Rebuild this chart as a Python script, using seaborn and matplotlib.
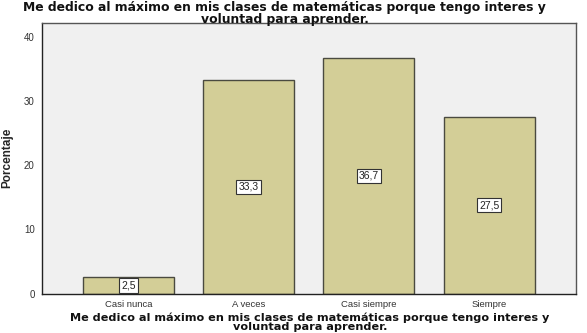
import matplotlib
matplotlib.use("Agg")
import matplotlib.pyplot as plt
import seaborn as sns
import pandas as pd

categories = ["Casi nunca", "A veces", "Casi siempre", "Siempre"]
values = [2.5, 33.3, 36.7, 27.5]
labels = ["2,5", "33,3", "36,7", "27,5"]
title = "Me dedico al máximo en mis clases de matemáticas porque tengo interes y\nvoluntad para aprender."
xlabel = "Me dedico al máximo en mis clases de matemáticas porque tengo interes y\nvoluntad para aprender."
ylabel = "Porcentaje"
yticks = [0, 10, 20, 30, 40]

sns.set_style("white")
plt.rcParams['font.family'] = ['Liberation Sans', 'DejaVu Sans']

df = pd.DataFrame({"cat": categories, "val": values})

fig = plt.figure(figsize=(5.87, 3.33), dpi=100)
ax = fig.add_axes([0.071, 1 - 293.5/333, 0.910, (293.5 - 22.7)/333])
ax.set_facecolor("#f0f0f0")
sns.barplot(data=df, x="cat", y="val", ax=ax, color="#d3ce97", saturation=1,
            width=0.756, edgecolor="#4a4a40", linewidth=1.0)
ax.set_xlim(-0.72, 3.72)
ax.set_ylim(0, 42.2)
ax.set_yticks(yticks)
ax.set_yticklabels([str(t) for t in yticks], fontsize=7, color="#333333")
ax.set_xticklabels(categories, fontsize=6.8, color="#333333")
ax.tick_params(axis="both", length=4, width=1, color="#333333", direction="out")
ax.tick_params(axis="y", pad=1)
ax.tick_params(axis="x", pad=0.5)
for s in ax.spines.values():
    s.set_color("#555555")
    s.set_linewidth(1)
ax.spines["left"].set_color("#222222")
ax.spines["bottom"].set_color("#222222")

for i, (v, lab) in enumerate(zip(values, labels)):
    ax.text(i, v / 2, lab, ha="center", va="center", fontsize=7.5, color="#222222",
            bbox=dict(boxstyle="square,pad=0.2", fc="white", ec="#333333", lw=0.8))

ax.set_xlabel("")
ax.set_ylabel(ylabel, fontsize=8.5, fontweight="bold", labelpad=8)
fig.text(0.485, 1.0 - 0.5/333, title, ha="center", va="top", fontsize=8.9,
         fontweight="bold", linespacing=0.95, color="#111111", family="DejaVu Sans")
fig.text(0.528, 0.5/333, xlabel, ha="center", va="bottom", fontsize=8.1,
         fontweight="bold", linespacing=0.9, color="#111111", family="DejaVu Sans")

fig.savefig("out.png", dpi=100)
